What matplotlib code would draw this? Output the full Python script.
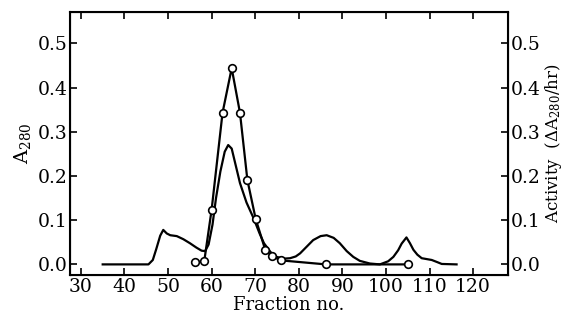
import matplotlib.pyplot as plt

# A280 elution profile (solid line)
frac_a280 = [35, 40, 45.5, 46.5, 47.3, 48.2, 48.9, 49.7, 50.5, 52.0, 53.5, 55.0,
             56.5, 57.7, 58.5, 59.3, 60.2, 61.0, 62.0, 63.0, 63.8, 64.6, 65.5,
             66.5, 68.0, 69.6, 71.0, 72.0, 73.5, 74.9, 76.5, 78.0, 79.3, 80.3,
             81.8, 83.3, 85.0, 86.4, 88.0, 89.4, 91.0, 92.5, 94.0, 96.3, 98.6,
             100.5, 101.7, 102.8, 103.6, 104.7, 105.5, 106.3, 107.2, 108.2,
             110.5, 111.8, 112.8, 116.2]
a280 = [0.0, 0.0, 0.0, 0.01, 0.035, 0.065, 0.078, 0.07, 0.066, 0.064, 0.057, 0.048,
        0.038, 0.031, 0.03, 0.045, 0.09, 0.15, 0.21, 0.255, 0.27, 0.262, 0.225,
        0.184, 0.14, 0.105, 0.07, 0.048, 0.028, 0.017, 0.013, 0.014, 0.018, 0.025,
        0.04, 0.055, 0.064, 0.066, 0.06, 0.048, 0.03, 0.017, 0.008, 0.002, 0.0,
        0.007, 0.017, 0.032, 0.047, 0.061, 0.048, 0.033, 0.022, 0.014,
        0.01, 0.005, 0.001, 0.0]

# enzyme activity (open circles)
frac_act = [56.2, 58.3, 60.0, 62.5, 64.6, 66.5, 68.2, 70.1, 72.3, 73.9, 76.0, 86.2, 105.0]
activity = [0.005, 0.007, 0.124, 0.343, 0.444, 0.343, 0.191, 0.103, 0.033, 0.018,
            0.009, 0.0, 0.0]

xticks = [30, 40, 50, 60, 70, 80, 90, 100, 110, 120]
yticks = [0.0, 0.1, 0.2, 0.3, 0.4, 0.5]

plt.rcParams['font.family'] = ['DejaVu Serif']
plt.rcParams['mathtext.fontset'] = 'dejavuserif'

fig = plt.figure(figsize=(5.66, 3.21), dpi=100)
ax = fig.add_axes([0.1237, 0.1433, 0.7738, 0.8193])

ax.plot(frac_a280, a280, color='black', lw=1.6)
ax.plot(frac_act, activity, color='black', lw=1.6, marker='o', ms=5.5,
        mfc='white', mec='black', mew=1.2)

ax.set_xlim(27.5, 128)
ax.set_ylim(-0.024, 0.571)
ax.set_xticks(xticks)
ax.set_yticks(yticks)
ax.set_yticklabels(['%.1f' % v for v in yticks])
ax.tick_params(direction='in', length=5, width=1.2, labelsize=13.5, top=True, pad=2)
for s in ax.spines.values():
    s.set_linewidth(1.5)

ax.set_xlabel('Fraction no.', fontsize=13, labelpad=0)
ax.set_ylabel(r'A$_{\mathregular{280}}$', fontsize=14, labelpad=3)

ax2 = ax.twinx()
ax2.set_ylim(ax.get_ylim())
ax2.set_yticks(yticks)
ax2.set_yticklabels(['%.1f' % v for v in yticks])
ax2.tick_params(direction='in', length=5, width=1.2, labelsize=13.5, pad=2)
ax2.set_ylabel(r'Activity  ($\Delta$A$_{\mathregular{280}}$/hr)', fontsize=12, labelpad=2)

fig.savefig('out.png', dpi=100)
